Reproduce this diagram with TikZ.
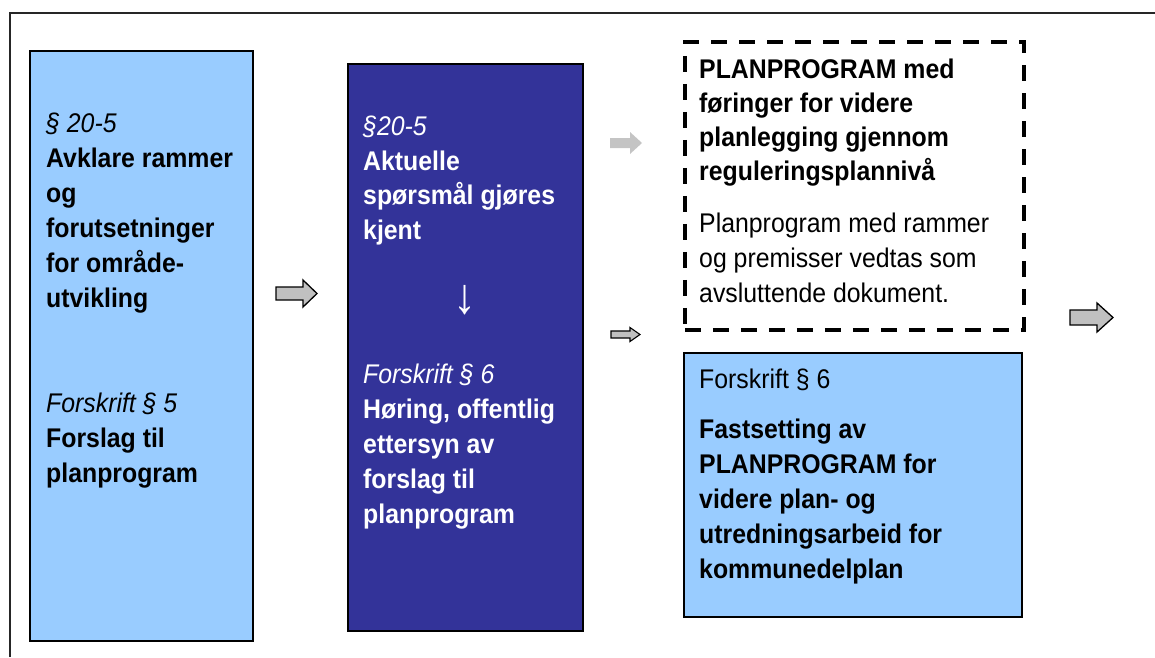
\documentclass[tikz,border=0pt]{standalone}
\usepackage{fontspec}
\setmainfont{Liberation Sans}[FakeStretch=0.92]
\definecolor{lightblue}{RGB}{153,204,255}
\definecolor{darkblue}{RGB}{51,51,153}
\definecolor{arrowgray}{RGB}{192,192,192}
\definecolor{palegray}{RGB}{196,196,196}
\begin{document}
\begin{tikzpicture}[x=1pt,y=-1pt,
  box/.style={draw=black, line width=2pt, anchor=north west, inner sep=0pt},
  ln/.style={anchor=base west, inner sep=0pt, font=\fontsize{27}{32}\selectfont},
  itl/.style={anchor=base west, inner sep=0pt, font=\fontsize{27}{32}\selectfont\itshape},
  bfl/.style={anchor=base west, inner sep=0pt, font=\fontsize{27}{32}\selectfont\bfseries},
  blockarrow/.style={draw=black, line width=1.3pt, fill=arrowgray, line join=miter}]
\useasboundingbox (0,0) rectangle (1155,657);
% outer frame
\draw[line width=1.5pt, black!85] (10,657) -- (10,13) -- (1155,13);
% boxes
\node[box, fill=lightblue, minimum width=223pt, minimum height=590pt] (box1) at (29,50) {};
\node[box, fill=darkblue, minimum width=235pt, minimum height=567pt] (box2) at (347,63) {};
\node[box, line width=3.5pt, dash pattern=on 16pt off 12pt, minimum width=339pt, minimum height=288pt] (box3) at (683,40) {};
\node[box, fill=lightblue, minimum width=338pt, minimum height=264pt] (box4) at (683,352) {};
% box 1 text
\node[itl] (a1) at (46,132) {§ 20-5};
\node[bfl] (a2) at (46,167) {Avklare rammer};
\node[bfl] (a3) at (46,202) {og};
\node[bfl] (a4) at (46,237) {forutsetninger};
\node[bfl] (a5) at (46,272) {for område-};
\node[bfl] (a6) at (46,307) {utvikling};
\node[itl] (a7) at (46,412) {Forskrift § 5};
\node[bfl] (a8) at (46,447) {Forslag til};
\node[bfl] (a9) at (46,482) {planprogram};
% box 2 text
\node[itl, text=white] (b1) at (363,135) {§20-5};
\node[bfl, text=white] (b2) at (363,170) {Aktuelle};
\node[bfl, text=white] (b3) at (363,204) {spørsmål gjøres};
\node[bfl, text=white] (b4) at (363,239) {kjent};
\node[inner sep=0pt, text=white, font=\fontsize{50}{50}\selectfont] (b5) at (465,300) {↓};
\node[itl, text=white] (b6) at (363,383) {Forskrift § 6};
\node[bfl, text=white] (b7) at (363,418) {Høring, offentlig};
\node[bfl, text=white] (b8) at (363,453) {ettersyn av};
\node[bfl, text=white] (b9) at (363,488) {forslag til};
\node[bfl, text=white] (b10) at (363,523) {planprogram};
% box 3 text
\node[bfl] (c1) at (699,78) {PLANPROGRAM med};
\node[bfl] (c2) at (699,112) {føringer for videre};
\node[bfl] (c3) at (699,146) {planlegging gjennom};
\node[bfl] (c4) at (699,180) {reguleringsplannivå};
\node[ln] (c5) at (699,232) {Planprogram med rammer};
\node[ln] (c6) at (699,267) {og premisser vedtas som};
\node[ln] (c7) at (699,302) {avsluttende dokument.};
% box 4 text
\node[ln] (d1) at (699,388) {Forskrift § 6};
\node[bfl] (d2) at (699,438) {Fastsetting av};
\node[bfl] (d3) at (699,473) {PLANPROGRAM for};
\node[bfl] (d4) at (699,508) {videre plan- og};
\node[bfl] (d5) at (699,543) {utredningsarbeid for};
\node[bfl] (d6) at (699,578) {kommunedelplan};
% block arrows
\draw[blockarrow] (276,287) -- (303,287) -- (303,280) -- (317,293.5) -- (303,307) -- (303,300) -- (276,300) -- cycle;
\draw[blockarrow, line width=1.1pt] (611,331) -- (630,331) -- (630,327.5) -- (640,334.5) -- (630,341.5) -- (630,338) -- (611,338) -- cycle;
\draw[blockarrow] (1070,310) -- (1097,310) -- (1097,303) -- (1113,317.5) -- (1097,332) -- (1097,325) -- (1070,325) -- cycle;
\fill[palegray] (610,138) -- (630,138) -- (630,132) -- (642,143) -- (630,154) -- (630,148) -- (610,148) -- cycle;
\end{tikzpicture}
\end{document}
